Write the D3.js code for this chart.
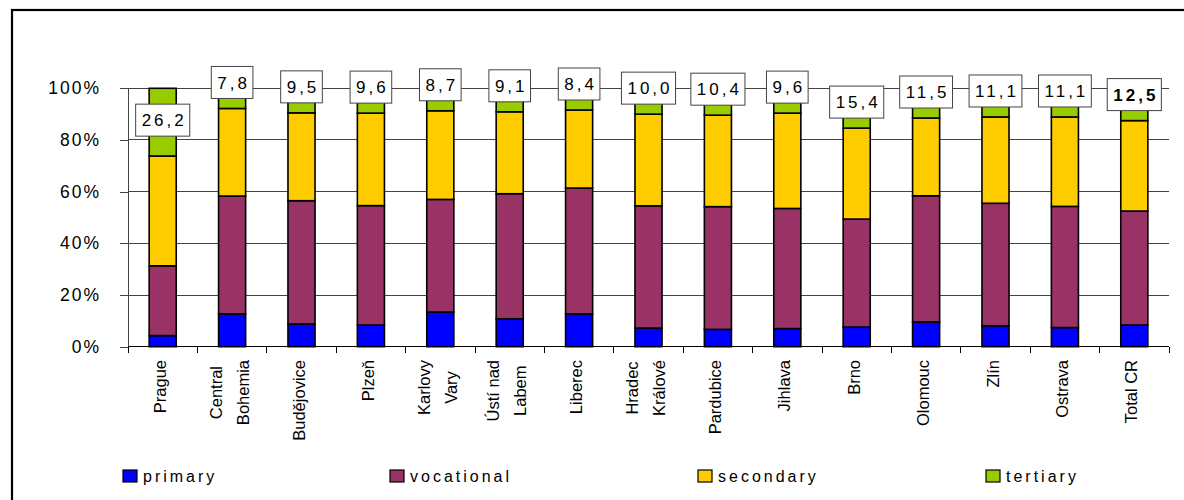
<!DOCTYPE html>
<html>
<head>
<meta charset="utf-8">
<script src="https://cdn.jsdelivr.net/npm/d3@7"></script>
<style>
  html, body { margin: 0; padding: 0; background: #fff; }
  svg { display: block; font-family: "Liberation Sans", Arial, sans-serif; }
</style>
</head>
<body>
<svg id="chart" width="1184" height="500"></svg>
<script>
// Educational attainment by region (shares of population, %)
const regions = [
  "Prague", "Central\nBohemia", "Budějovice", "Plzeň", "Karlovy\nVary",
  "Ústí nad\nLabem", "Liberec", "Hradec\nKrálové", "Pardubice", "Jihlava",
  "Brno", "Olomouc", "Zlín", "Ostrava", "Total CR"
];
const primary    = [4.3, 12.7, 8.8, 8.4, 13.4, 10.8, 12.7, 7.2, 6.7, 7.0, 7.6, 9.6, 8.1, 7.4, 8.4];
const vocational = [27.0, 45.6, 47.7, 46.2, 43.6, 48.4, 48.7, 47.3, 47.5, 46.5, 41.8, 48.8, 47.4, 46.9, 44.1];
const secondary  = [42.5, 33.9, 34.0, 35.8, 34.3, 31.7, 30.2, 35.5, 35.4, 36.9, 35.2, 30.1, 33.4, 34.6, 35.0];
const tertiary   = [26.2, 7.8, 9.5, 9.6, 8.7, 9.1, 8.4, 10.0, 10.4, 9.6, 15.4, 11.5, 11.1, 11.1, 12.5];

const seriesKeys   = ["primary", "vocational", "secondary", "tertiary"];
const seriesColors = ["#0000FF", "#993366", "#FFCC00", "#99CC00"];
const yTicks       = [0, 20, 40, 60, 80, 100];

const rows = regions.map((r, i) => ({
  region: r,
  primary: primary[i],
  vocational: vocational[i],
  secondary: secondary[i],
  tertiary: tertiary[i]
}));

const svg = d3.select("#chart");
const plot = { left: 128, right: 1169, top: 88.3, bottom: 346.7 };
const font = '"Liberation Sans", Arial, sans-serif';

// outer frame
svg.append("rect")
  .attr("x", 12).attr("y", 10).attr("width", 1190).attr("height", 510)
  .attr("fill", "none").attr("stroke", "#000").attr("stroke-width", 2.2);

const x = d3.scaleBand().domain(regions)
  .range([plot.left, plot.right]).paddingInner(0.61).paddingOuter(0.305);
const slot = d3.scaleBand().domain(regions).range([plot.left, plot.right]).padding(0);
const y = d3.scaleLinear().domain([0, 100]).range([plot.bottom, plot.top]);

// gridlines
svg.append("g").selectAll("line").data(yTicks.filter(t => t > 0)).join("line")
  .attr("x1", plot.left).attr("x2", plot.right)
  .attr("y1", d => y(d)).attr("y2", d => y(d))
  .attr("stroke", "#444").attr("stroke-width", 1).attr("shape-rendering", "crispEdges");

// y axis
const yAxis = svg.append("g").attr("transform", `translate(${plot.left},0)`)
  .call(d3.axisLeft(y).tickValues(yTicks).tickSizeInner(8).tickSizeOuter(0)
    .tickFormat(d => d + "%").tickPadding(19));
yAxis.select(".domain").attr("stroke", "#444").attr("shape-rendering", "crispEdges");
yAxis.selectAll(".tick line").attr("stroke", "#444").attr("shape-rendering", "crispEdges");
yAxis.selectAll(".tick text")
  .attr("font-family", font).attr("font-size", 17.5).attr("letter-spacing", "2px")
  .attr("fill", "#000");

// x axis baseline and tick marks at category boundaries
const bounds = regions.map(r => slot(r)).concat([plot.right]);
svg.append("line")
  .attr("x1", plot.left).attr("x2", plot.right)
  .attr("y1", plot.bottom).attr("y2", plot.bottom)
  .attr("stroke", "#000").attr("stroke-width", 1).attr("shape-rendering", "crispEdges");
svg.append("g").selectAll("line").data(bounds).join("line")
  .attr("x1", d => d).attr("x2", d => d)
  .attr("y1", plot.bottom).attr("y2", plot.bottom + 6)
  .attr("stroke", "#000").attr("shape-rendering", "crispEdges");

// stacked bars
const stacked = d3.stack().keys(seriesKeys)(rows);
const color = d3.scaleOrdinal().domain(seriesKeys).range(seriesColors);
svg.append("g").selectAll("g").data(stacked).join("g")
  .attr("fill", d => color(d.key))
  .selectAll("rect").data(d => d).join("rect")
  .attr("x", d => x(d.data.region))
  .attr("width", x.bandwidth())
  .attr("y", d => y(d[1]))
  .attr("height", d => y(d[0]) - y(d[1]))
  .attr("stroke", "#000").attr("stroke-width", 1.6);

// tertiary share labels
const labelG = svg.append("g");
rows.forEach(d => {
  const cx = x(d.region) + x.bandwidth() / 2;
  const top = 100 - d.tertiary;
  const cy = d.tertiary > 20 ? y(100 - d.tertiary / 2) - 2 : y(top) - 26;
  const g = labelG.append("g");
  const box = g.append("rect");
  const t = g.append("text")
    .attr("x", cx + 1.5).attr("y", cy)
    .attr("text-anchor", "middle").attr("dy", "0.36em")
    .attr("font-family", font).attr("font-size", 17).attr("letter-spacing", "3px")
    .attr("font-weight", d.region === "Total CR" ? "bold" : "normal")
    .text(d.tertiary.toFixed(1).replace(".", ","));
  const w = t.node().getComputedTextLength() + 9;
  box.attr("x", cx - w / 2).attr("y", cy - 16).attr("width", w).attr("height", 32)
    .attr("fill", "#fff").attr("stroke", "#444").attr("stroke-width", 1);
});

// category labels, rotated, lines centred on each other
const catG = svg.append("g");
regions.forEach(r => {
  const lines = r.split("\n");
  const cx = slot(r) + slot.bandwidth() / 2 - 3;
  const gap = 27;
  const texts = lines.map((ln, k) => {
    const off = (k - (lines.length - 1) / 2) * gap;
    return catG.append("text")
      .attr("font-family", font).attr("font-size", 16.5)
      .attr("dominant-baseline", "central")
      .attr("text-anchor", "end")
      .text(ln)
      .datum(off);
  });
  const lens = texts.map(t => t.node().getComputedTextLength());
  const maxLen = d3.max(lens);
  texts.forEach((t, k) => {
    const yy = 360 + (maxLen - lens[k]) / 2;
    t.attr("transform", `translate(${cx + t.datum()},${yy}) rotate(-90)`);
  });
});

// legend
const legendX = [123, 390, 698, 986];
const leg = svg.append("g");
seriesKeys.forEach((k, i) => {
  leg.append("rect")
    .attr("x", legendX[i]).attr("y", 470).attr("width", 14).attr("height", 12)
    .attr("fill", seriesColors[i]).attr("stroke", "#000").attr("stroke-width", 1.2);
  leg.append("text")
    .attr("x", legendX[i] + 20).attr("y", 481.5)
    .attr("font-family", font).attr("font-size", 16).attr("letter-spacing", "3px")
    .text(k);
});
</script>
</body>
</html>
